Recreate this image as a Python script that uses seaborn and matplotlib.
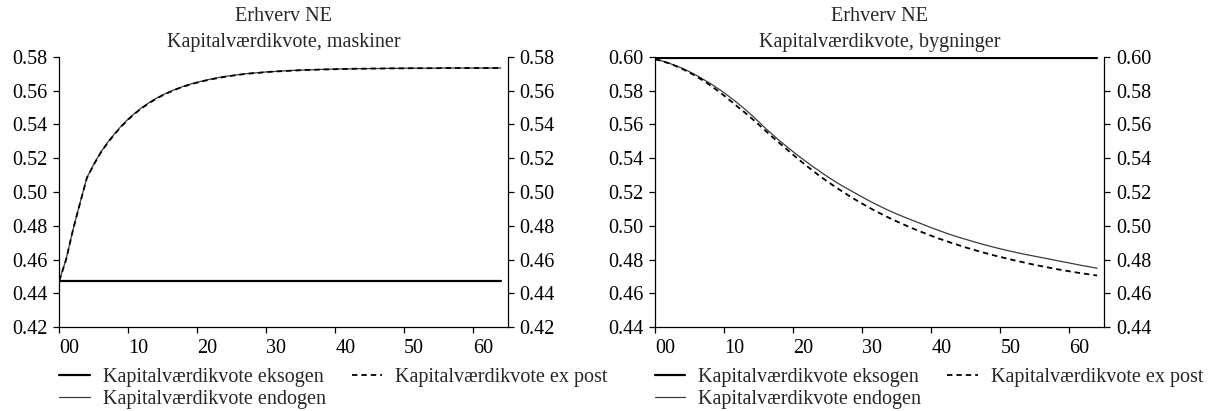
import numpy as np
import pandas as pd
import matplotlib
matplotlib.use("Agg")
import matplotlib.pyplot as plt
import seaborn as sns

# ---------------- data ----------------
years = list(range(0, 65))
xtick_vals = [0, 10, 20, 30, 40, 50, 60]
xtick_labels = ["00", "10", "20", "30", "40", "50", "60"]

# Left panel: maskiner
mask_eksogen = [0.4475] * 65
mask_endogen = [
    0.4475, 0.4605, 0.4780, 0.4935, 0.5085, 0.5165, 0.5235, 0.5293, 0.5344, 0.5391,
    0.5432, 0.5468, 0.5500, 0.5528, 0.5553, 0.5574, 0.5593, 0.5610, 0.5625, 0.5638,
    0.5649, 0.5659, 0.5668, 0.5676, 0.5683, 0.5689, 0.5694, 0.5699, 0.5703, 0.5706,
    0.5710, 0.5712, 0.5715, 0.5717, 0.5719, 0.5721, 0.5722, 0.5723, 0.5725, 0.5726,
    0.5727, 0.5728, 0.5728, 0.5729, 0.5729, 0.5730, 0.5730, 0.5731, 0.5731, 0.5731,
    0.5732, 0.5732, 0.5732, 0.5732, 0.5732, 0.5733, 0.5733, 0.5733, 0.5733, 0.5733,
    0.5733, 0.5733, 0.5733, 0.5733, 0.5733,
]
mask_expost = [
    0.4475, 0.4603, 0.4778, 0.4933, 0.5083, 0.5162, 0.5232, 0.5290, 0.5341, 0.5388,
    0.5429, 0.5465, 0.5497, 0.5525, 0.5550, 0.5572, 0.5591, 0.5608, 0.5623, 0.5636,
    0.5647, 0.5657, 0.5666, 0.5674, 0.5681, 0.5687, 0.5693, 0.5698, 0.5702, 0.5705,
    0.5709, 0.5712, 0.5714, 0.5716, 0.5718, 0.5720, 0.5722, 0.5723, 0.5724, 0.5725,
    0.5726, 0.5727, 0.5728, 0.5729, 0.5729, 0.5730, 0.5730, 0.5730, 0.5731, 0.5731,
    0.5731, 0.5732, 0.5732, 0.5732, 0.5732, 0.5732, 0.5733, 0.5733, 0.5733, 0.5733,
    0.5733, 0.5733, 0.5733, 0.5733, 0.5733,
]

# Right panel: bygninger
byg_eksogen = [0.5990] * 65
byg_endogen = [
    0.5985, 0.5975, 0.5962, 0.5947, 0.5931, 0.5911, 0.5890, 0.5866, 0.5842, 0.5815,
    0.5787, 0.5756, 0.5724, 0.5690, 0.5654, 0.5616, 0.5576, 0.5540, 0.5504, 0.5471,
    0.5438, 0.5406, 0.5376, 0.5346, 0.5318, 0.5290, 0.5264, 0.5239, 0.5216, 0.5193,
    0.5170, 0.5148, 0.5127, 0.5107, 0.5088, 0.5070, 0.5053, 0.5037, 0.5021, 0.5005,
    0.4989, 0.4974, 0.4959, 0.4945, 0.4932, 0.4920, 0.4908, 0.4896, 0.4885, 0.4874,
    0.4864, 0.4854, 0.4845, 0.4836, 0.4828, 0.4820, 0.4812, 0.4804, 0.4796, 0.4788,
    0.4780, 0.4772, 0.4764, 0.4757, 0.4749,
]
byg_expost = [
    0.5985, 0.5975, 0.5961, 0.5945, 0.5927, 0.5906, 0.5883, 0.5858, 0.5831, 0.5801,
    0.5770, 0.5737, 0.5703, 0.5670, 0.5635, 0.5599, 0.5562, 0.5525, 0.5490, 0.5455,
    0.5420, 0.5386, 0.5353, 0.5321, 0.5290, 0.5261, 0.5233, 0.5206, 0.5180, 0.5155,
    0.5131, 0.5108, 0.5086, 0.5065, 0.5045, 0.5026, 0.5008, 0.4990, 0.4973, 0.4957,
    0.4941, 0.4926, 0.4912, 0.4898, 0.4885, 0.4872, 0.4860, 0.4848, 0.4837, 0.4826,
    0.4816, 0.4806, 0.4796, 0.4787, 0.4778, 0.4769, 0.4761, 0.4753, 0.4745, 0.4738,
    0.4731, 0.4724, 0.4718, 0.4712, 0.4706,
]

series_names = ["Kapitalværdikvote eksogen", "Kapitalværdikvote endogen", "Kapitalværdikvote ex post"]
panel_titles = ["Erhverv NE\nKapitalværdikvote, maskiner", "Erhverv NE\nKapitalværdikvote, bygninger"]
ylims = [(0.42, 0.58), (0.44, 0.60)]

# ---------------- style ----------------
sns.set_theme(style="ticks")
plt.rcParams["font.family"] = ["Liberation Serif", "DejaVu Serif"]
plt.rcParams["font.size"] = 14.5
FS = 14.5

fig = plt.figure(figsize=(12.17, 4.11), dpi=100)
ax_l = fig.add_axes([59.3 / 1217, 1 - 327.3 / 411, (507.7 - 59.3) / 1217, (327.3 - 56.7) / 411])
ax_r = fig.add_axes([655 / 1217, 1 - 327.3 / 411, (1104 - 655) / 1217, (327.3 - 56.7) / 411])

panels = [
    (ax_l, mask_eksogen, mask_endogen, mask_expost),
    (ax_r, byg_eksogen, byg_endogen, byg_expost),
]

for i, (ax, eks, endo, expo) in enumerate(panels):
    df = pd.DataFrame({"year": years, "eks": eks, "endo": endo, "expo": expo})
    sns.lineplot(data=df, x="year", y="eks", ax=ax, color="black", linewidth=1.6,
                 label=series_names[0])
    sns.lineplot(data=df, x="year", y="endo", ax=ax, color="#3a3a3a", linewidth=0.9,
                 label=series_names[1])
    sns.lineplot(data=df, x="year", y="expo", ax=ax, color="black", linewidth=1.3,
                 linestyle=(0, (3, 2.2)), label=series_names[2])

    lo, hi = ylims[i]
    ax.set_xlim(0, 65)
    ax.set_ylim(lo, hi)
    ax.set_xticks(xtick_vals)
    ax.set_xticklabels(xtick_labels, ha="left")
    yt = np.round(np.arange(lo, hi + 1e-9, 0.02), 2)
    ax.set_yticks(yt)
    ax.set_yticklabels([f"{v:.2f}" for v in yt])
    ax.set_xlabel("")
    ax.set_ylabel("")
    ax.tick_params(axis="both", direction="out", length=4.5, width=0.9, labelsize=FS,
                   colors="black", pad=4)
    ax.tick_params(axis="y", right=True, labelright=True, left=True, labelleft=True)
    ax.spines["top"].set_visible(False)
    for s in ["left", "right", "bottom"]:
        ax.spines[s].set_visible(True)
        ax.spines[s].set_linewidth(0.9)
        ax.spines[s].set_color("black")
    ax.set_title(panel_titles[i], fontsize=FS, pad=7, linespacing=1.5)

    handles, labels = ax.get_legend_handles_labels()
    ax.legend(handles, labels, loc="upper left", bbox_to_anchor=(0.0, -0.15),
              ncol=2, frameon=False, fontsize=FS, borderaxespad=0, borderpad=0,
              handlelength=1.5, handletextpad=0.65, columnspacing=1.3,
              labelspacing=0.15)

fig.savefig("out.png", dpi=100)
